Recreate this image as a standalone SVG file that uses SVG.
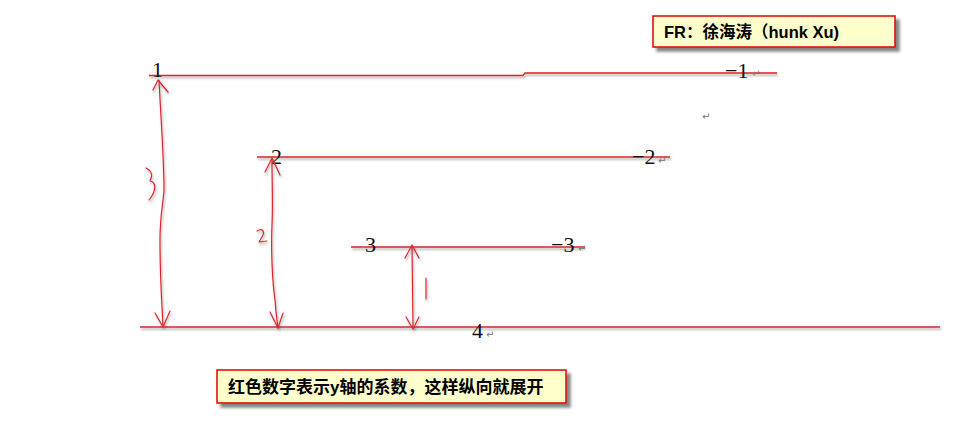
<svg xmlns="http://www.w3.org/2000/svg" width="960" height="445" viewBox="0 0 960 445">
<defs>
<filter id="sh" x="-5%" y="-50%" width="110%" height="300%">
<feDropShadow dx="1" dy="2" stdDeviation="1.2" flood-color="#555" flood-opacity="0.55"/>
</filter>
<filter id="boxsh" x="-5%" y="-20%" width="115%" height="160%">
<feDropShadow dx="4" dy="4" stdDeviation="1.5" flood-color="#333" flood-opacity="0.6"/>
</filter>
</defs>
<style>
.ln{fill:none;stroke:#e02020;stroke-width:1.3}
.ink{fill:none;stroke:#e0242a;stroke-width:1.2;stroke-linecap:round;stroke-linejoin:round}
.num{font-family:"Liberation Serif",serif;font-size:22px;fill:#111}
.ret{font-family:"DejaVu Sans",sans-serif;font-size:10px;fill:#777}
.box{fill:#ffffcc;stroke:#e00000;stroke-width:1.5}
.bt{font-family:"Liberation Sans","Noto Sans CJK SC",sans-serif;font-weight:bold;fill:#000}
</style>
<rect width="960" height="445" fill="#fff"/>

<g id="lines" filter="url(#sh)">
<polyline class="ln" points="149,75.5 523,75.5 525,73 777,73"/>
<line class="ln" x1="257" y1="157" x2="670" y2="157"/>
<line class="ln" x1="351" y1="247" x2="585" y2="247"/>
<line class="ln" x1="140" y1="327" x2="940" y2="327"/>
</g>

<g id="labels">
<text class="num" x="152" y="77">1</text>
<text class="num" x="725" y="78">−1</text>
<text class="ret" x="752" y="77">↵</text>
<text class="num" x="271" y="164">2</text>
<text class="num" x="632" y="164">−2</text>
<text class="ret" x="658" y="164">↵</text>
<text class="num" x="365" y="252">3</text>
<text class="num" x="551" y="252">−3</text>
<text class="ret" x="578" y="252">↵</text>
<text class="num" x="472" y="338">4</text>
<text class="ret" x="486" y="338">↵</text>
<text class="ret" x="702" y="120">↵</text>
</g>

<g id="connectors" filter="url(#sh)">
<path class="ink" d="M159,80 C161,120 164,160 164,190 C163,205 160,215 160,240 C160,280 162,305 163,326"/>
<path class="ink" d="M153,90 L158,80 L168,92"/>
<path class="ink" d="M155,313 L163,327 L170,311"/>
<path class="ink" d="M146,168 C150,170 154,173 150,181 C156,182 157,190 149,200"/>
<path class="ink" d="M272,160 C272,185 273,205 272,225 C271,245 272,280 275,300 C276,315 277,320 278,328"/>
<path class="ink" d="M265,172 L272,158 L280,175"/>
<path class="ink" d="M270,312 L278,328 L283,313"/>
<path class="ink" d="M257,231 C261,228 266,230 262,237 L259,242 L267,241"/>
<path class="ink" d="M412,247 L413,327"/>
<path class="ink" d="M405,258 L412,245 L419,258"/>
<path class="ink" d="M406,317 L413,329 L419,317"/>
<path class="ink" d="M426,278 L426,299"/>
</g>

<g id="note-author">
<rect class="box" x="653" y="16" width="242" height="31" filter="url(#boxsh)"/>
<text class="bt" x="664" y="38" font-size="16.5">FR：徐海涛（hunk Xu)</text>
</g>
<g id="note-explain">
<rect class="box" x="217" y="370" width="349" height="33" filter="url(#boxsh)"/>
<text class="bt" x="228" y="393" font-size="17">红色数字表示y轴的系数，这样纵向就展开</text>
</g>
</svg>
